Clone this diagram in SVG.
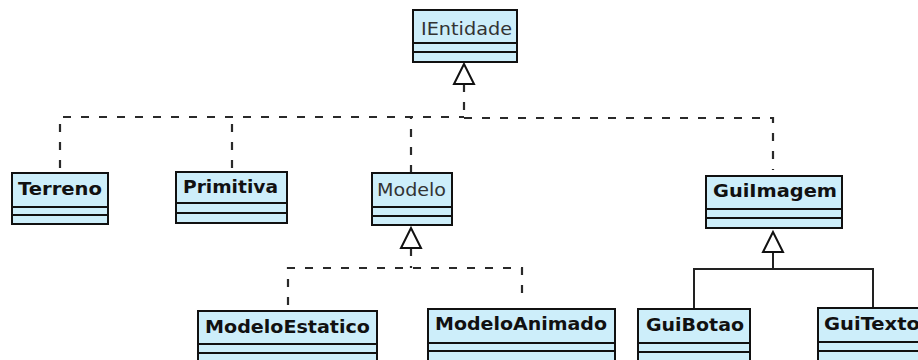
<svg xmlns="http://www.w3.org/2000/svg" width="918" height="360" viewBox="0 0 918 360">
  <style>
    .box { fill: #cdeefa; stroke: #111; stroke-width: 2; }
    .sep { stroke: #111; stroke-width: 2; }
    .name { font-family: "DejaVu Sans", Verdana, sans-serif; font-size: 18.5px; font-weight: bold; fill: #111; }
    .iface { font-family: "DejaVu Sans", Verdana, sans-serif; font-size: 18.5px; fill: #333; }
    .real { fill: none; stroke: #2a2a2a; stroke-width: 2.2; stroke-dasharray: 8 10; }
    .gen { fill: none; stroke: #222; stroke-width: 2; }
    .head { fill: #fff; stroke: #111; stroke-width: 2; stroke-linejoin: miter; }
  </style>
  <rect width="918" height="360" fill="#fff"/>

  <g id="connectors">
    <!-- realization of IEntidade -->
    <path class="real" d="M464 84 V117"/>
    <path class="real" d="M60 168 V117 H464"/>
    <path class="real" d="M232 168 V117"/>
    <path class="real" d="M411 173 V117"/>
    <path class="real" d="M464 118 H773 V170"/>
    <polygon class="head" points="464,64 454,84 474,84"/>
    <!-- realization of Modelo -->
    <path class="real" d="M411 248 V268"/>
    <path class="real" d="M288 305 V268 H522 V300"/>
    <polygon class="head" points="411,228 401,248 421,248"/>
    <!-- generalization of GuiImagem -->
    <path class="gen" d="M773 252 V269 M694 309 V269 H873 V308"/>
    <polygon class="head" points="773,232 763,252 783,252"/>
  </g>

  <g id="IEntidade">
    <rect class="box" x="413" y="10" width="104" height="52"/>
    <line class="sep" x1="413" y1="43" x2="517" y2="43"/>
    <line class="sep" x1="413" y1="52" x2="517" y2="52"/>
    <text class="iface" x="421" y="35" textLength="91" lengthAdjust="spacingAndGlyphs">IEntidade</text>
  </g>

  <g id="Terreno">
    <rect class="box" x="12" y="173" width="96" height="51"/>
    <line class="sep" x1="12" y1="207" x2="108" y2="207"/>
    <line class="sep" x1="12" y1="215" x2="108" y2="215"/>
    <text class="name" x="18" y="195" textLength="84" lengthAdjust="spacingAndGlyphs">Terreno</text>
  </g>

  <g id="Primitiva">
    <rect class="box" x="176" y="172" width="111" height="51"/>
    <line class="sep" x1="176" y1="203" x2="287" y2="203"/>
    <line class="sep" x1="176" y1="213" x2="287" y2="213"/>
    <text class="name" x="183" y="193" textLength="95" lengthAdjust="spacingAndGlyphs">Primitiva</text>
  </g>

  <g id="Modelo">
    <rect class="box" x="372" y="173" width="80" height="52"/>
    <line class="sep" x1="372" y1="207" x2="452" y2="207"/>
    <line class="sep" x1="372" y1="216" x2="452" y2="216"/>
    <text class="iface" x="377" y="196" textLength="69" lengthAdjust="spacingAndGlyphs">Modelo</text>
  </g>

  <g id="GuiImagem">
    <rect class="box" x="706" y="176" width="136" height="52"/>
    <line class="sep" x1="706" y1="209" x2="842" y2="209"/>
    <line class="sep" x1="706" y1="218" x2="842" y2="218"/>
    <text class="name" x="713" y="197" textLength="124" lengthAdjust="spacingAndGlyphs">GuiImagem</text>
  </g>

  <g id="ModeloEstatico">
    <rect class="box" x="198" y="311" width="179" height="60"/>
    <line class="sep" x1="198" y1="344" x2="377" y2="344"/>
    <line class="sep" x1="198" y1="353" x2="377" y2="353"/>
    <text class="name" x="205" y="333" textLength="165" lengthAdjust="spacingAndGlyphs">ModeloEstatico</text>
  </g>

  <g id="ModeloAnimado">
    <rect class="box" x="428" y="309" width="187" height="60"/>
    <line class="sep" x1="428" y1="343" x2="615" y2="343"/>
    <line class="sep" x1="428" y1="351" x2="615" y2="351"/>
    <text class="name" x="435" y="330" textLength="172" lengthAdjust="spacingAndGlyphs">ModeloAnimado</text>
  </g>

  <g id="GuiBotao">
    <rect class="box" x="638" y="309" width="112" height="60"/>
    <line class="sep" x1="638" y1="343" x2="750" y2="343"/>
    <line class="sep" x1="638" y1="352" x2="750" y2="352"/>
    <text class="name" x="646" y="331" textLength="98" lengthAdjust="spacingAndGlyphs">GuiBotao</text>
  </g>

  <g id="GuiTexto">
    <rect class="box" x="818" y="308" width="120" height="60"/>
    <line class="sep" x1="818" y1="342" x2="938" y2="342"/>
    <line class="sep" x1="818" y1="351" x2="938" y2="351"/>
    <text class="name" x="824" y="330" textLength="96" lengthAdjust="spacingAndGlyphs">GuiTexto</text>
  </g>
</svg>
